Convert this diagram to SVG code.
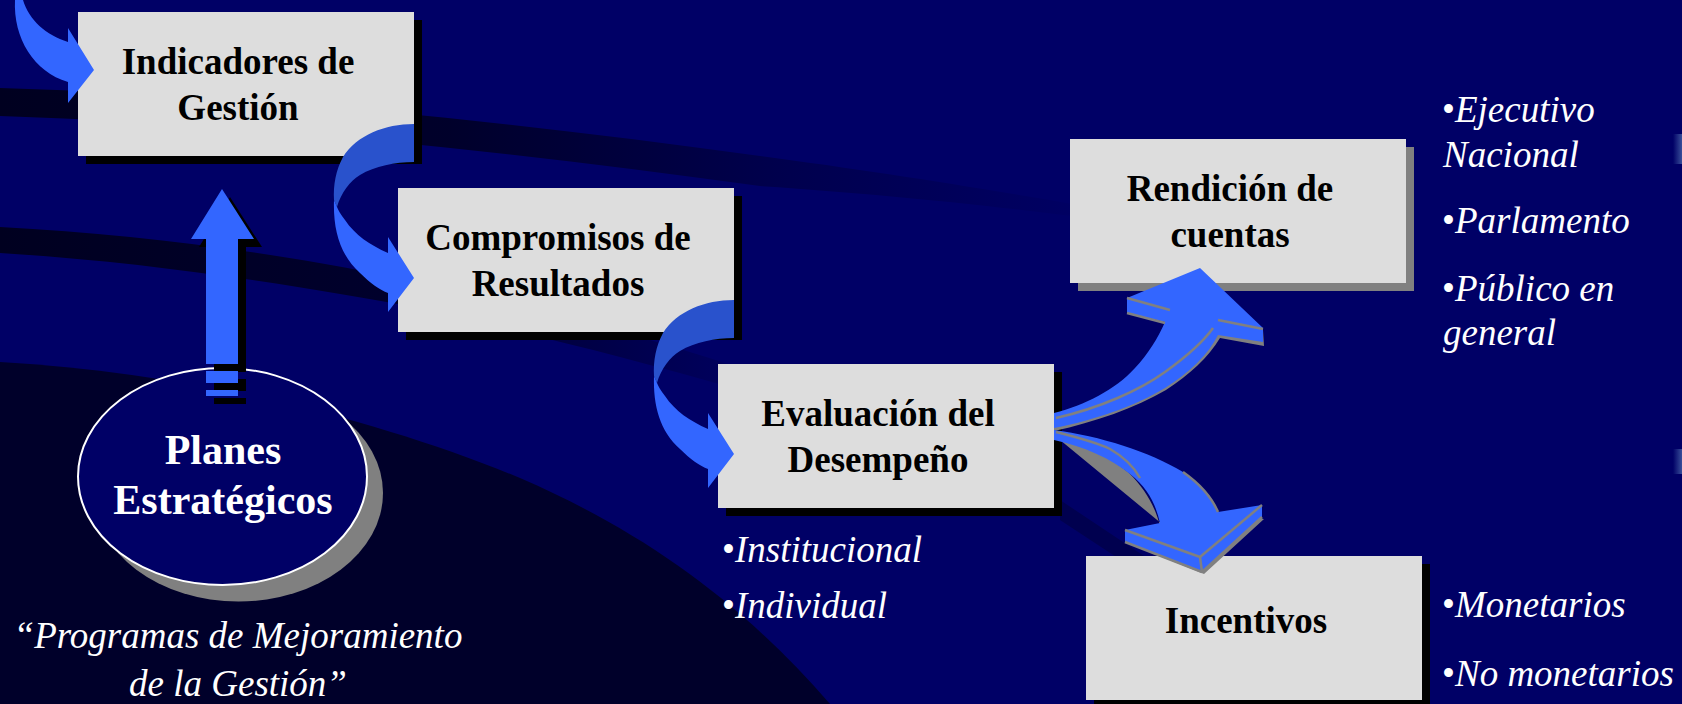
<svg xmlns="http://www.w3.org/2000/svg" width="1682" height="704" viewBox="0 0 1682 704">
<defs>
<style>
.box{fill:#DDDDDD}
.shadow{fill:#000000}
.gshadow{fill:#808080}
.lbl{font-family:"Liberation Serif","Times New Roman",serif;font-weight:bold;font-size:37px;fill:#000000;text-anchor:middle}
.wlbl{font-family:"Liberation Serif","Times New Roman",serif;font-weight:bold;font-size:42px;fill:#FFFFFF;text-anchor:middle}
.it{font-family:"Liberation Serif","Times New Roman",serif;font-style:italic;font-size:37px;fill:#FFFFFF}
.bul{font-style:normal}
.blue{fill:#3366FF}
.dblue{fill:#2952CC}
.edge{fill:none;stroke:#808080;stroke-width:2.5;stroke-linejoin:round}
</style>
<linearGradient id="fadeR" x1="0" y1="0" x2="1" y2="0">
<stop offset="0" stop-color="#000020" stop-opacity="1"/>
<stop offset="0.4" stop-color="#000020" stop-opacity="0.85"/>
<stop offset="0.7" stop-color="#000020" stop-opacity="0.35"/>
<stop offset="1" stop-color="#000020" stop-opacity="0"/>
</linearGradient>
<linearGradient id="fadeR2" x1="0" y1="0" x2="1" y2="0">
<stop offset="0" stop-color="#000020" stop-opacity="1"/>
<stop offset="0.6" stop-color="#000020" stop-opacity="0.8"/>
<stop offset="1" stop-color="#000020" stop-opacity="0.1"/>
</linearGradient>
<linearGradient id="edgeBit" x1="0" y1="0" x2="1" y2="0">
<stop offset="0" stop-color="#000066"/>
<stop offset="1" stop-color="#5070B0"/>
</linearGradient>
</defs>

<g id="background">
<rect x="0" y="0" width="1682" height="704" fill="#000066"/>
<path d="M0,88 C250,95 500,120 760,156 C880,172 980,188 1120,212 L1120,222 C980,204 880,194 760,186 C500,150 250,124 0,116 Z" fill="url(#fadeR)"/>
<path d="M0,227 C150,235 300,256 420,283 C530,306 630,332 740,368 L740,390 C630,358 530,334 420,308 C300,286 150,262 0,253 Z" fill="url(#fadeR2)"/>
<path d="M0,362 C200,374 380,420 520,478 C640,530 740,600 830,704 L0,704 Z" fill="#00002A"/>
<path d="M1060,500 L1150,560 L1130,566 L1060,520 Z" fill="#000040" opacity="0.6"/>
<rect x="1673" y="134" width="9" height="30" fill="url(#edgeBit)" opacity="0.7"/>
<rect x="1673" y="449" width="9" height="25" fill="url(#edgeBit)" opacity="0.7"/>
</g>

<g id="node-indicadores">
<rect class="shadow" x="86" y="20" width="336" height="144"/>
<rect class="box" x="78" y="12" width="336" height="144"/>
<text class="lbl" x="238" y="74">Indicadores de</text>
<text class="lbl" x="238" y="120">Gestión</text>
</g>

<g id="node-compromisos">
<rect class="shadow" x="406" y="196" width="336" height="144"/>
<rect class="box" x="398" y="188" width="336" height="144"/>
<text class="lbl" x="558" y="250">Compromisos de</text>
<text class="lbl" x="558" y="296">Resultados</text>
</g>

<g id="node-evaluacion">
<rect class="shadow" x="726" y="372" width="336" height="144"/>
<rect class="box" x="718" y="364" width="336" height="144"/>
<text class="lbl" x="878" y="426">Evaluación del</text>
<text class="lbl" x="878" y="472">Desempeño</text>
</g>

<g id="node-rendicion">
<rect class="gshadow" x="1078" y="147" width="336" height="144"/>
<rect class="box" x="1070" y="139" width="336" height="144"/>
<text class="lbl" x="1230" y="201">Rendición de</text>
<text class="lbl" x="1230" y="247">cuentas</text>
</g>

<g id="node-incentivos">
<rect class="shadow" x="1094" y="564" width="336" height="144"/>
<rect class="box" x="1086" y="556" width="336" height="144"/>
<text class="lbl" x="1246" y="633">Incentivos</text>
</g>

<g id="node-planes">
<ellipse cx="238.5" cy="493" rx="144.5" ry="108.5" fill="#808080"/>
<ellipse cx="222.5" cy="476.5" rx="144.5" ry="108.5" fill="#000066" stroke="#FFFFFF" stroke-width="2"/>
<text class="wlbl" x="223" y="464">Planes</text>
<text class="wlbl" x="223" y="514">Estratégicos</text>
</g>

<g id="caption">
<text class="it" x="238" y="648" text-anchor="middle">“Programas de Mejoramiento</text>
<text class="it" x="238" y="696" text-anchor="middle">de la Gestión”</text>
</g>

<g id="list-evaluacion">
<text class="it" x="722" y="562"><tspan class="bul">•</tspan>Institucional</text>
<text class="it" x="722" y="618"><tspan class="bul">•</tspan>Individual</text>
</g>

<g id="list-rendicion">
<text class="it" x="1442" y="122"><tspan class="bul">•</tspan>Ejecutivo</text>
<text class="it" x="1443" y="167">Nacional</text>
<text class="it" x="1442" y="233"><tspan class="bul">•</tspan>Parlamento</text>
<text class="it" x="1442" y="301"><tspan class="bul">•</tspan>Público en</text>
<text class="it" x="1443" y="345">general</text>
</g>

<g id="list-incentivos">
<text class="it" x="1442" y="617"><tspan class="bul">•</tspan>Monetarios</text>
<text class="it" x="1442" y="686"><tspan class="bul">•</tspan>No monetarios</text>
</g>

<g id="connectors">
<!-- incoming arrow top-left -->
<path class="blue" d="M15,0 C13,38 34,72 68,82 L68,103 L94,70 L68,28 L68,42 C46,35 29,20 23,0 Z"/>

<!-- U-turn arrow Indicadores -> Compromisos -->
<g id="uturn1">
<path class="dblue" d="M414,124 C385,124 357,135 343,157 C336,170 333,185 334,200 L337,207 C341,193 350,181 360,175 C375,166 395,162 414,162 Z"/>
<path class="blue" d="M334,200 C333,230 340,255 360,273 C370,283 380,290 388,293 L388,312 L414,278 L388,237 L388,253 C370,245 355,235 345,220 C341,215 338,210 337,207 Z"/>
</g>
<!-- U-turn arrow Compromisos -> Evaluación -->
<g id="uturn2" transform="translate(320,176)">
<path class="dblue" d="M414,124 C385,124 357,135 343,157 C336,170 333,185 334,200 L337,207 C341,193 350,181 360,175 C375,166 395,162 414,162 Z"/>
<path class="blue" d="M334,200 C333,230 340,255 360,273 C370,283 380,290 388,293 L388,312 L414,278 L388,237 L388,253 C370,245 355,235 345,220 C341,215 338,210 337,207 Z"/>
</g>

<!-- up arrow Planes -> Indicadores -->
<g id="uparrow">
<path class="shadow" d="M230,197 L262,247 L246,247 L246,372 L214,372 L214,247 L199,247 Z"/>
<rect class="shadow" x="214" y="379" width="32" height="12"/>
<rect class="shadow" x="214" y="398" width="32" height="6"/>
<path class="blue" d="M222,189 L254,239 L238,239 L238,364 L206,364 L206,239 L191,239 Z"/>
<rect class="blue" x="206" y="371" width="32" height="12"/>
<rect class="blue" x="206" y="390" width="32" height="6"/>
</g>

<!-- 3D arrow Evaluación -> Rendición -->
<g id="arrow3d-up">
<path fill="#808080" d="M1054,420 C1095,410 1135,393 1160,376 C1185,360 1205,342 1216,322 L1263,330 L1264,346 L1220,338 C1208,358 1190,374 1166,390 C1135,408 1095,422 1054,431 Z"/>
<path class="blue" d="M1054,413 C1085,405 1115,390 1135,368 C1148,354 1158,338 1165,322 L1127,313 L1127,298 L1200,268 L1263,328 L1263,342 L1218,335 C1208,355 1190,372 1165,388 C1135,406 1095,420 1054,428 Z"/>
<path class="edge" d="M1056,418 C1100,408 1140,390 1165,372 C1190,354 1206,338 1213,328"/>
<path class="edge" d="M1218,320 L1263,329"/>
<path class="edge" d="M1127,298 L1170,310"/>
<path class="edge" d="M1127,313 L1165,323"/>
</g>

<!-- 3D arrow Evaluación -> Incentivos -->
<g id="arrow3d-down">
<path fill="#808080" d="M1054,435 C1085,444 1110,457 1129,473 C1145,489 1155,506 1160,526 L1130,544 L1204,574 L1264,519 L1222,514 L1162,524 Z"/>
<path class="blue" d="M1054,430 C1100,436 1150,452 1183,472 C1200,484 1212,498 1218,512 L1262,505 L1262,517 L1202,572 L1125,542 L1125,530 L1160,523 C1156,505 1148,488 1130,474 C1110,458 1085,447 1054,440 Z"/>
<path class="edge" d="M1056,432 C1080,438 1100,444 1110,449 C1124,457 1134,467 1140,478"/>
<path class="edge" d="M1125,530 L1200,557 L1262,505"/>
<path class="edge" d="M1200,557 L1202,572"/>
<path class="edge" d="M1262,517 L1202,572"/>
<path class="edge" d="M1125,542 L1202,572"/>
<path class="edge" d="M1183,472 C1200,484 1212,498 1218,512"/>
</g>
</g>
</svg>
